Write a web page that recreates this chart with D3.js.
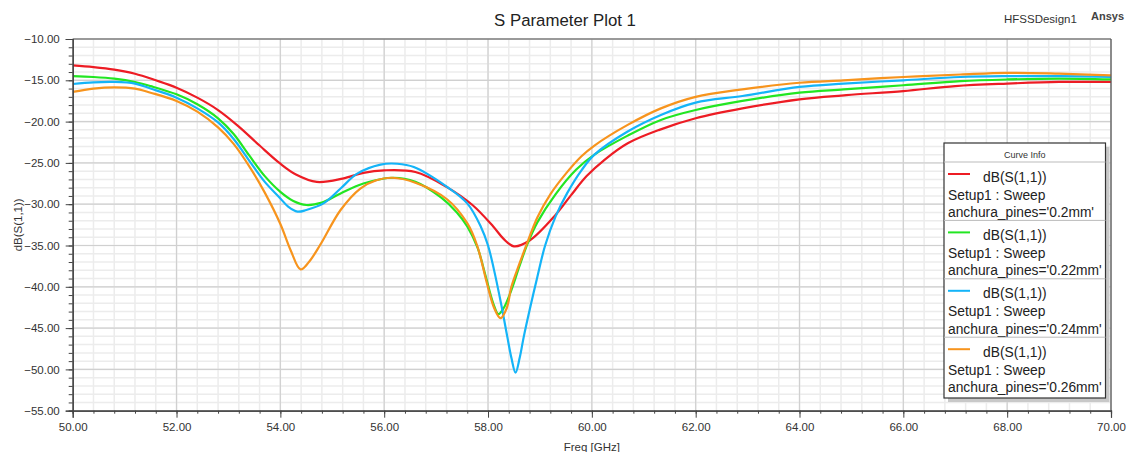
<!DOCTYPE html>
<html>
<head>
<meta charset="utf-8">
<script src="https://cdn.jsdelivr.net/npm/d3@7"></script>
<style>
  body { margin: 0; background: #fff; }
  text { font-family: "Liberation Sans", Arial, sans-serif; }
</style>
</head>
<body>
<svg id="chart" width="1128" height="452"></svg>
<script>
// dB(S(1,1)) vs Freq [GHz], one array per anchura_pines value
const pines020 = [[50,-13.2],[50.4,-13.4],[50.8,-13.7],[51.2,-14.2],[51.6,-15.0],[52,-15.9],[52.4,-17.1],[52.8,-18.6],
  [53.2,-20.6],[53.6,-22.9],[54,-25.1],[54.3,-26.4],[54.7,-27.3],[55.2,-26.9],[55.6,-26.2],[56,-25.9],[56.6,-26.1],
  [57.2,-27.9],[57.7,-30.1],[58.1,-32.7],[58.3,-34.2],[58.5,-35.1],[58.8,-34.4],[59.3,-31.3],[59.6,-28.9],[59.9,-26.6],
  [60.25,-24.6],[60.7,-22.6],[61.3,-21.0],[62,-19.6],[62.9,-18.4],[64,-17.3],[64.9,-16.8],[66,-16.3],[67,-15.7],
  [68,-15.4],[69,-15.2],[70,-15.2]];
const pines022 = [[50,-14.5],[50.4,-14.6],[50.8,-14.8],[51.2,-15.2],[51.5,-15.7],[52,-16.7],[52.4,-17.9],[52.8,-19.6],
  [53.1,-21.5],[53.4,-24.1],[53.7,-26.6],[54,-28.5],[54.25,-29.6],[54.5,-30.1],[54.8,-29.8],[55.16,-28.7],[55.6,-27.5],
  [56.18,-26.8],[56.6,-27.3],[57.1,-29.2],[57.4,-31.0],[57.6,-32.7],[57.8,-35.3],[57.95,-38.6],[58.1,-42.0],[58.2,-43.3],
  [58.3,-42.6],[58.45,-40.4],[58.6,-37.6],[58.76,-34.8],[58.95,-32.2],[59.3,-28.8],[59.7,-25.8],[60.05,-24.0],
  [60.69,-21.7],[61.33,-19.8],[62,-18.6],[62.9,-17.5],[64,-16.5],[64.85,-16.1],[66,-15.6],[67.1,-15.1],[68,-14.9],
  [69,-14.8],[70,-14.9]];
const pines024 = [[50,-15.45],[50.4,-15.25],[50.8,-15.2],[51.2,-15.4],[51.5,-16.0],[52,-17.1],[52.4,-18.4],[52.8,-20.1],
  [53.1,-22.1],[53.42,-24.9],[53.7,-27.3],[54,-29.3],[54.15,-30.3],[54.33,-30.9],[54.5,-30.7],[54.83,-29.9],[55.16,-28.1],
  [55.48,-26.3],[55.93,-25.2],[56.25,-25.1],[56.57,-25.5],[57.21,-27.9],[57.6,-29.9],[57.86,-32.7],[58.0,-35.0],
  [58.11,-37.8],[58.25,-42.0],[58.37,-46.0],[58.45,-48.6],[58.53,-50.4],[58.61,-48.6],[58.69,-46.0],[58.82,-42.3],
  [58.95,-38.8],[59.1,-35.0],[59.3,-31.5],[59.53,-28.6],[59.8,-25.9],[60.05,-24.0],[60.69,-21.2],[61.33,-19.2],[62,-17.7],
  [62.9,-16.9],[64,-15.8],[64.85,-15.4],[66,-15.0],[67.1,-14.6],[68,-14.5],[69,-14.5],[70,-14.6]];
const pines026 = [[50,-16.4],[50.4,-16.0],[50.8,-15.85],[51.2,-16.0],[51.5,-16.5],[52,-17.5],[52.4,-18.8],[52.8,-20.7],
  [53.1,-22.7],[53.42,-25.6],[53.7,-28.6],[54,-32.4],[54.2,-35.6],[54.39,-37.9],[54.55,-37.0],[54.77,-34.9],[55.16,-30.7],
  [55.54,-28.1],[55.85,-27.1],[56.15,-26.8],[56.6,-27.4],[57.21,-29.4],[57.6,-32.3],[57.79,-35.0],[57.98,-39.6],
  [58.12,-42.6],[58.24,-43.8],[58.36,-42.6],[58.45,-40.0],[58.6,-37.3],[58.76,-34.6],[58.95,-31.6],[59.2,-28.8],
  [59.5,-26.3],[59.8,-24.2],[60.05,-22.9],[60.69,-20.4],[61.33,-18.4],[62,-17.0],[62.9,-16.1],[64,-15.3],
  [64.85,-15.0],[66,-14.6],[67.1,-14.3],[68,-14.1],[69,-14.2],[70,-14.4]];

const seriesData = [pines020, pines022, pines024, pines026];
const sweepLabels = ["anchura_pines='0.2mm'", "anchura_pines='0.22mm'", "anchura_pines='0.24mm'", "anchura_pines='0.26mm'"];
const curveColors = ["#ed1c24", "#22e622", "#14b4f8", "#f7941d"];

const xMajorTicks = d3.range(0, 11).map(i => 50 + i * 2);
const xMinorTicks = d3.range(0, 51).map(i => 50 + i * 0.4);
const yMajorTicks = d3.range(0, 10).map(i => -10 - i * 5);
const yMinorTicks = d3.range(0, 46).map(i => -10 - i);

const width = 1128, height = 452;
const margin = {top: 39, right: 17, bottom: 41.3, left: 72.7};

const svg = d3.select("#chart");

const x = d3.scaleLinear().domain([50, 70]).range([margin.left, width - margin.right]);
const y = d3.scaleLinear().domain([-55, -10]).range([height - margin.bottom, margin.top]);

// grid
const grid = svg.append("g");
grid.selectAll("line.vmin").data(xMinorTicks).join("line")
  .attr("x1", d => x(d)).attr("x2", d => x(d))
  .attr("y1", y(-55)).attr("y2", y(-10))
  .attr("stroke", "#ececec").attr("stroke-width", 1.5);
grid.selectAll("line.hmin").data(yMinorTicks).join("line")
  .attr("y1", d => y(d)).attr("y2", d => y(d))
  .attr("x1", x(50)).attr("x2", x(70))
  .attr("stroke", "#ececec").attr("stroke-width", 1.5);
grid.selectAll("line.vmaj").data(xMajorTicks).join("line")
  .attr("x1", d => x(d)).attr("x2", d => x(d))
  .attr("y1", y(-55)).attr("y2", y(-10))
  .attr("stroke", "#d0d0d0").attr("stroke-width", 1.2);
grid.selectAll("line.hmaj").data(yMajorTicks).join("line")
  .attr("y1", d => y(d)).attr("y2", d => y(d))
  .attr("x1", x(50)).attr("x2", x(70))
  .attr("stroke", "#d0d0d0").attr("stroke-width", 1.2);

// curves
svg.append("clipPath").attr("id", "plotclip").append("rect")
  .attr("x", x(50)).attr("y", y(-10)).attr("width", x(70) - x(50)).attr("height", y(-55) - y(-10));

const line = d3.line().x(d => x(d[0])).y(d => y(d[1])).curve(d3.curveCatmullRom.alpha(0.5));

svg.append("g").attr("clip-path", "url(#plotclip)")
  .selectAll("path").data(seriesData).join("path")
  .attr("d", line)
  .attr("fill", "none")
  .attr("stroke", (d, i) => curveColors[i])
  .attr("stroke-width", 2.2)
  .attr("stroke-linejoin", "round");

// frame
svg.append("line").attr("x1", x(50)).attr("x2", x(70)).attr("y1", y(-10)).attr("y2", y(-10))
  .attr("stroke", "#555").attr("stroke-width", 1.2);
svg.append("line").attr("x1", x(70)).attr("x2", x(70)).attr("y1", y(-10)).attr("y2", y(-55))
  .attr("stroke", "#555").attr("stroke-width", 1.2);

// axes
const fmt = d3.format(".2f");
const styleAxis = g => {
  g.select(".domain").attr("stroke", "#444").attr("stroke-width", 1.2);
  g.selectAll(".tick line").attr("stroke", "#444");
  g.selectAll("text").attr("fill", "#333").style("font-size", "11.5px");
};

svg.append("g").attr("transform", `translate(0,${y(-55)})`)
  .call(d3.axisBottom(x).tickValues(xMinorTicks).tickSize(3).tickFormat(""))
  .call(styleAxis);
svg.append("g").attr("transform", `translate(0,${y(-55)})`)
  .call(d3.axisBottom(x).tickValues(xMajorTicks).tickSize(7).tickPadding(5).tickFormat(fmt))
  .call(styleAxis);
svg.append("g").attr("transform", `translate(${x(50)},0)`)
  .call(d3.axisLeft(y).tickValues(yMinorTicks).tickSize(4).tickFormat(""))
  .call(styleAxis);
svg.append("g").attr("transform", `translate(${x(50)},0)`)
  .call(d3.axisLeft(y).tickValues(yMajorTicks).tickSize(7).tickPadding(6).tickFormat(fmt))
  .call(styleAxis);

// titles
svg.append("text").attr("x", 565).attr("y", 26).attr("text-anchor", "middle")
  .style("font-size", "16.8px").attr("fill", "#222").text("S Parameter Plot 1");
svg.append("text").attr("x", 1004).attr("y", 23)
  .style("font-size", "11.5px").attr("fill", "#333").text("HFSSDesign1");
svg.append("text").attr("x", 1091).attr("y", 20)
  .style("font-size", "11px").style("font-weight", "bold").attr("fill", "#444").text("Ansys");
svg.append("text").attr("x", (x(50) + x(70)) / 2).attr("y", 451).attr("text-anchor", "middle")
  .style("font-size", "11.5px").attr("fill", "#333").text("Freq [GHz]");
svg.append("text").attr("transform", `translate(22,${(y(-10) + y(-55)) / 2}) rotate(-90)`)
  .attr("text-anchor", "middle")
  .style("font-size", "11.5px").attr("fill", "#333").text("dB(S(1,1))");

// legend
const lgX = 944, lgY = 143, lgW = 161.5, lgH = 255, headH = 19, rowH = 58.4;
const legend = svg.append("g");
legend.append("rect").attr("x", lgX + 4).attr("y", lgY + 4).attr("width", lgW).attr("height", lgH)
  .attr("fill", "#c8c8c8");
legend.append("rect").attr("x", lgX).attr("y", lgY).attr("width", lgW).attr("height", lgH)
  .attr("fill", "#fff").attr("stroke", "#333").attr("stroke-width", 1.2);
legend.append("text").attr("x", lgX + lgW / 2).attr("y", lgY + 15).attr("text-anchor", "middle")
  .style("font-size", "9px").attr("fill", "#333").text("Curve Info");

const rows = legend.selectAll("g.row").data(sweepLabels).join("g")
  .attr("transform", (d, i) => `translate(${lgX},${lgY + headH + i * rowH})`);
rows.append("line").attr("x1", 0).attr("x2", lgW).attr("y1", 0).attr("y2", 0)
  .attr("stroke", "#bbb").attr("stroke-width", 1);
rows.append("line").attr("x1", 4).attr("x2", 26).attr("y1", 12).attr("y2", 12)
  .attr("stroke", (d, i) => curveColors[i]).attr("stroke-width", 2);
rows.append("text").attr("x", 39).attr("y", 19.5).style("font-size", "13.8px").attr("fill", "#222")
  .text("dB(S(1,1))");
rows.append("text").attr("x", 4).attr("y", 37.5).style("font-size", "13.8px").attr("fill", "#222")
  .text("Setup1 : Sweep");
rows.append("text").attr("x", 4).attr("y", 55).style("font-size", "13.8px").attr("fill", "#222")
  .text(d => d);
</script>
</body>
</html>
